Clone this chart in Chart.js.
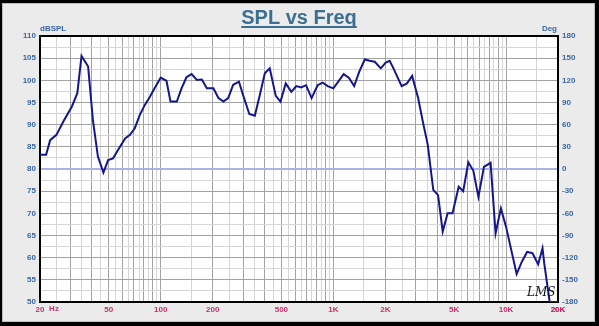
<!DOCTYPE html>
<html>
<head>
<meta charset="utf-8">
<title>SPL vs Freq</title>
<script src="https://cdn.jsdelivr.net/npm/chart.js@4.4.1/dist/chart.umd.min.js"></script>
<style>
  html, body { margin: 0; padding: 0; background: #000; }
  canvas { display: block; }
</style>
</head>
<body>
<canvas id="spl" width="599" height="326"></canvas>
<script>
// Frequency response measurement (Hz / dB SPL)
const freqs = [20, 21.7, 22.9, 24.9, 27.3, 30.6, 32.9, 34.8, 38.0, 40.5, 43.3, 46.6, 49.6, 53.0, 56.6,
  62.2, 66.4, 70.8, 75.7, 80.8, 86.3, 92.2, 100, 108, 114, 124, 132, 141, 151, 162, 173, 185, 202,
  216, 231, 246, 263, 284, 300, 326, 351, 375, 401, 428, 464, 494, 530, 571, 610, 651, 695, 748,
  811, 866, 927, 1000, 1068, 1147, 1229, 1320, 1411, 1520, 1623, 1736, 1882, 2010, 2118, 2229,
  2486, 2668, 2859, 3097, 3313, 3520, 3790, 4040, 4300, 4590, 4900, 5320, 5650, 6050, 6470, 6920,
  7450, 8140, 8700, 9340, 10000, 11520, 12350, 13250, 14230, 15350, 16270, 16650, 17900, 20000];
const spl = [83.2, 83.2, 86.5, 87.7, 90.7, 94.1, 97.1, 105.5, 103.1, 91.0, 82.8, 79.2, 82.0, 82.4, 84.3,
  86.9, 87.7, 89.2, 92.2, 94.4, 96.2, 98.2, 100.6, 99.9, 95.2, 95.2, 98.2, 100.7, 101.4, 100.1, 100.2, 98.2, 98.2,
  96.0, 95.2, 96.0, 99.0, 99.7, 96.7, 92.4, 92.0, 96.7, 101.6, 102.7, 96.5, 95.2, 99.3, 97.4, 98.7, 98.4, 98.9, 96.0,
  98.9, 99.5, 98.7, 98.2, 99.7, 101.4, 100.6, 98.7, 101.9, 104.7, 104.4, 104.2, 102.7, 104.0, 104.4, 102.7,
  98.7, 99.3, 101.0, 96.0, 90.3, 85.5, 75.3, 74.1, 65.9, 70.0, 70.0, 76.0, 75.0, 81.5, 79.6, 73.7,
  80.5, 81.4, 65.5, 71.1, 67.0, 56.3, 59.1, 61.3, 61.0, 58.5, 62.1, 58.7, 50.0, 50.0];

// Axis ticks
const freqLabels = { 20: '20', 50: '50', 100: '100', 200: '200', 500: '500', 1000: '1K', 2000: '2K', 5000: '5K', 10000: '10K', 20000: '20K' };
const gridMantissas = [1, 1.5, 2, 2.5, 3, 3.5, 4, 4.5, 5, 5.5, 6, 6.5, 7, 7.5, 8, 8.5, 9, 9.5];
const decades = [10, 100, 1000, 10000];
const splTicks = [50, 55, 60, 65, 70, 75, 80, 85, 90, 95, 100, 105, 110];
const phaseTicks = [-180, -150, -120, -90, -60, -30, 0, 30, 60, 90, 120, 150, 180];

const BLUE_TXT = '#3a66a6';
const RED_TXT = '#c5306e';
const GRID_DARK = '#a2a2a2';
const GRID_LIGHT = '#d5d5d5';

const freqGrid = [];
decades.forEach(d => gridMantissas.forEach(m => {
  const v = Math.round(m * d * 1000) / 1000;
  if (v >= 20 && v <= 20000) freqGrid.push(v);
}));
freqGrid.push(20000);

const splGrid = [];
for (let v = 50; v <= 110; v += 2.5) splGrid.push(v);

function isWhole(v) {
  const p = Math.pow(10, Math.floor(Math.log10(v) + 1e-9));
  const m = v / p;
  return Math.abs(m - Math.round(m)) < 1e-6;
}

const panelPlugin = {
  id: 'panel',
  beforeDraw(chart) {
    const c = chart.ctx;
    c.save();
    c.fillStyle = '#000';
    c.fillRect(0, 0, chart.width, chart.height);
    c.fillStyle = '#ebebeb';
    c.fillRect(2, 3, 593, 319);
    c.strokeStyle = '#bdbdbd';
    c.lineWidth = 1;
    c.strokeRect(2.5, 3.5, 592, 318);
    const a = chart.chartArea;
    c.fillStyle = '#ffffff';
    c.fillRect(a.left, a.top, a.right - a.left, a.bottom - a.top);
    c.restore();
  },
  beforeDatasetsDraw(chart) {
    const c = chart.ctx;
    const a = chart.chartArea;
    c.save();
    c.strokeStyle = '#000';
    c.lineWidth = 2;
    c.strokeRect(a.left, a.top, a.right - a.left, a.bottom - a.top);
    c.restore();
  },
  afterDraw(chart) {
    const c = chart.ctx;
    const a = chart.chartArea;
    c.save();
    // title
    c.font = 'bold 20px "Liberation Sans", Arial, sans-serif';
    c.fillStyle = '#3b6f90';
    c.textAlign = 'center';
    c.textBaseline = 'alphabetic';
    const title = 'SPL vs Freq';
    c.fillText(title, 299, 24);
    const w = c.measureText(title).width;
    c.fillRect(299 - w / 2, 26, w, 2);
    // axis units
    c.font = 'bold 8px "Liberation Sans", Arial, sans-serif';
    c.fillStyle = BLUE_TXT;
    c.textBaseline = 'middle';
    c.textAlign = 'left';
    c.fillText('dBSPL', a.left, 29);
    c.textAlign = 'right';
    c.fillText('Deg', a.right - 1, 29);
    c.fillStyle = RED_TXT;
    c.textAlign = 'center';
    c.fillText('Hz', 54, 309);
    // signature
    c.font = 'italic 12px "DejaVu Serif", serif';
    c.fillStyle = '#111';
    c.textAlign = 'left';
    c.textBaseline = 'alphabetic';
    c.fillText('LMS', 527, 296);
    c.restore();
  }
};

new Chart(document.getElementById('spl'), {
  type: 'line',
  data: {
    datasets: [{
      data: freqs.map((f, i) => ({ x: f, y: spl[i] })),
      borderColor: '#16168c',
      borderWidth: 2,
      pointRadius: 0,
      tension: 0,
      fill: false
    }]
  },
  options: {
    responsive: false,
    animation: false,
    devicePixelRatio: 1,
    layout: { padding: { top: 36, left: 0, right: 0, bottom: 0 } },
    plugins: { legend: { display: false }, tooltip: { enabled: false }, title: { display: false } },
    scales: {
      x: {
        type: 'logarithmic',
        min: 20,
        max: 20000,
        afterBuildTicks(s) { s.ticks = freqGrid.map(v => ({ value: v })); },
        afterFit(s) { s.height = 24; },
        border: { display: false },
        grid: {
          drawTicks: false,
          lineWidth: 1,
          color: ctx => (ctx.tick && isWhole(ctx.tick.value)) ? GRID_DARK : GRID_LIGHT
        },
        ticks: {
          autoSkip: false,
          maxRotation: 0,
          padding: 3,
          color: RED_TXT,
          font: { family: '"Liberation Sans", Arial, sans-serif', size: 8, weight: 'bold' },
          callback: v => freqLabels[v] || ''
        }
      },
      y: {
        position: 'left',
        min: 50,
        max: 110,
        afterBuildTicks(s) { s.ticks = splGrid.map(v => ({ value: v })); },
        afterFit(s) { s.width = 40; },
        border: { display: false },
        grid: {
          drawTicks: false,
          lineWidth: ctx => (ctx.tick && ctx.tick.value === 80) ? 2 : 1,
          color: ctx => {
            if (!ctx.tick) return GRID_LIGHT;
            if (ctx.tick.value === 80) return '#aeb0e6';
            return splTicks.includes(ctx.tick.value) ? GRID_DARK : GRID_LIGHT;
          }
        },
        ticks: {
          autoSkip: false,
          padding: 4,
          color: BLUE_TXT,
          font: { family: '"Liberation Sans", Arial, sans-serif', size: 8, weight: 'bold' },
          callback: v => splTicks.includes(v) ? String(v) : ''
        }
      },
      phase: {
        position: 'right',
        min: -180,
        max: 180,
        afterBuildTicks(s) { s.ticks = phaseTicks.map(v => ({ value: v })); },
        afterFit(s) { s.width = 41; },
        border: { display: false },
        grid: { drawOnChartArea: false, drawTicks: false },
        ticks: {
          autoSkip: false,
          padding: 4,
          color: BLUE_TXT,
          font: { family: '"Liberation Sans", Arial, sans-serif', size: 8, weight: 'bold' },
          callback: v => String(v)
        }
      }
    }
  },
  plugins: [panelPlugin]
});
</script>
</body>
</html>
